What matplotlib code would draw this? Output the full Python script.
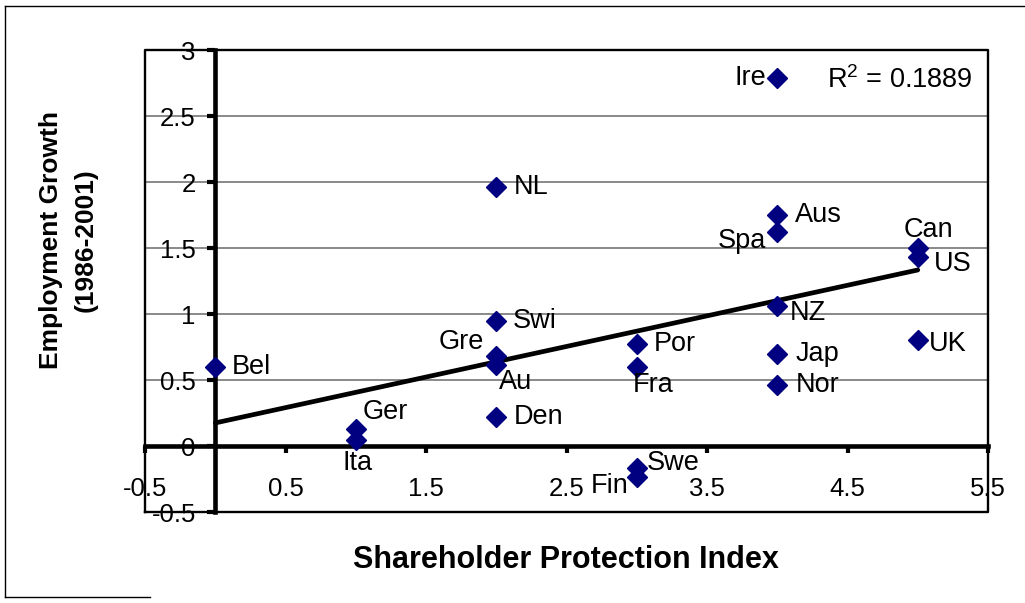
import matplotlib
matplotlib.use("Agg")
import matplotlib.pyplot as plt
import numpy as np
from matplotlib.lines import Line2D

plt.rcParams['font.family'] = ['Liberation Sans', 'DejaVu Sans']
plt.rcParams['mathtext.fontset'] = 'custom'
plt.rcParams['mathtext.rm'] = 'Liberation Sans'
plt.rcParams['mathtext.it'] = 'Liberation Sans'

# ---- data ----
countries = ["Bel", "Ger", "Ita", "NL", "Swi", "Gre", "Au", "Den", "Por", "Fra",
             "Swe", "Fin", "Ire", "Aus", "Spa", "NZ", "Jap", "Nor", "Can", "US", "UK"]
shareholder_index = [0, 1, 1, 2, 2, 2, 2, 2, 3, 3,
                     3, 3, 4, 4, 4, 4, 4, 4, 5, 5, 5]
employment_growth = [0.60, 0.13, 0.045, 1.96, 0.95, 0.68, 0.61, 0.22, 0.77, 0.60,
                     -0.17, -0.235, 2.79, 1.75, 1.62, 1.06, 0.70, 0.46, 1.50, 1.43, 0.80]
r_squared_text = "R$^2$ = 0.1889"
x_ticks = [-0.5, 0.5, 1.5, 2.5, 3.5, 4.5, 5.5]
y_ticks = [-0.5, 0, 0.5, 1, 1.5, 2, 2.5, 3]

# label placement (offset pixels, horizontal alignment)
label_pos = {
    "Bel": (17, 0, "left"), "Ger": (7, 17, "left"), "Ita": (2, -23, "center"),
    "NL": (17, 0, "left"), "Swi": (17, 0, "left"), "Gre": (-12, 14, "right"),
    "Au": (3, -17, "left"), "Den": (18, 0, "left"), "Por": (17, 0, "left"),
    "Fra": (-4, -18, "left"), "Swe": (10, 5, "left"), "Fin": (-8, -9, "right"),
    "Ire": (-11, 0, "right"), "Aus": (18, 0, "left"), "Spa": (-11, -9, "right"),
    "NZ": (12, -7, "left"), "Jap": (18, 0, "left"), "Nor": (18, 0, "left"),
    "Can": (11, 18, "center"), "US": (16, -7, "left"), "UK": (11, -4, "left"),
}

W, H = 1025, 603
fig = plt.figure(figsize=(W / 100, H / 100), dpi=100)
ax = fig.add_axes([145 / W, 1 - 512 / H, 843 / W, 462 / H])

ax.set_xlim(-0.5, 5.5)
ax.set_ylim(-0.5, 3)

ax.set_yticks(y_ticks)
ax.set_yticklabels([f"{v:g}" for v in y_ticks])
ax.set_xticks(x_ticks)
ax.set_xticklabels([f"{v:g}" for v in x_ticks])
ax.yaxis.grid(True, color="#808080", lw=1.3)
ax.set_axisbelow(True)

for s in ["top", "right"]:
    ax.spines[s].set_visible(False)
ax.spines["left"].set_position(("data", 0))
ax.spines["bottom"].set_position(("data", 0))
ax.spines["left"].set_linewidth(3.3)
ax.spines["bottom"].set_linewidth(3.3)
ax.spines["left"].set_zorder(3)
ax.spines["bottom"].set_zorder(3)

ax.tick_params(axis="y", direction="out", length=6, width=3, pad=8, labelsize=18.5)
ax.tick_params(axis="x", direction="out", length=5, width=3, pad=17, labelsize=18.5)

# plot-area border
ax.plot([0, 1, 1, 0, 0], [0, 0, 1, 1, 0], transform=ax.transAxes, color="black",
        lw=1.7, clip_on=False, zorder=2)

# trend line
slope, intercept = np.polyfit(shareholder_index, employment_growth, 1)
xs = np.array([0, 5])
ax.plot(xs, slope * xs + intercept, color="black", lw=3.4, zorder=4, solid_capstyle="round")

# points
ax.plot(shareholder_index, employment_growth, linestyle="none", marker="D",
        markersize=10, color="#000080", zorder=5, clip_on=False)

for name, x, y in zip(countries, shareholder_index, employment_growth):
    dx, dy, ha = label_pos[name]
    ax.annotate(name, (x, y), xytext=(dx, dy), textcoords="offset pixels",
                ha=ha, va="center", fontsize=19.5, zorder=6)

ax.text(0.809, 0.935, r_squared_text, transform=ax.transAxes, ha="left", va="center",
        fontsize=19.5)

# axis titles
fig.text(566 / W, 1 - 560 / H, "Shareholder Protection Index", ha="center", va="center",
         fontsize=22, fontweight="bold")
fig.text(68 / W, 1 - 240 / H, "Employment Growth\n(1986-2001)", ha="center", va="center",
         rotation=90, fontsize=19, fontweight="bold", multialignment="center",
         linespacing=1.55)

# outer chart frame
fig.add_artist(Line2D([4.7 / W, 4.7 / W], [1 - 6 / H, 1 - 597 / H],
                      transform=fig.transFigure, color="black", lw=1))
fig.add_artist(Line2D([4.7 / W, 1.0], [1 - 6 / H, 1 - 6 / H],
                      transform=fig.transFigure, color="black", lw=1))
fig.add_artist(Line2D([4.7 / W, 150 / W], [1 - 597 / H, 1 - 597 / H],
                      transform=fig.transFigure, color="black", lw=1))

fig.savefig("out.png", dpi=100)
